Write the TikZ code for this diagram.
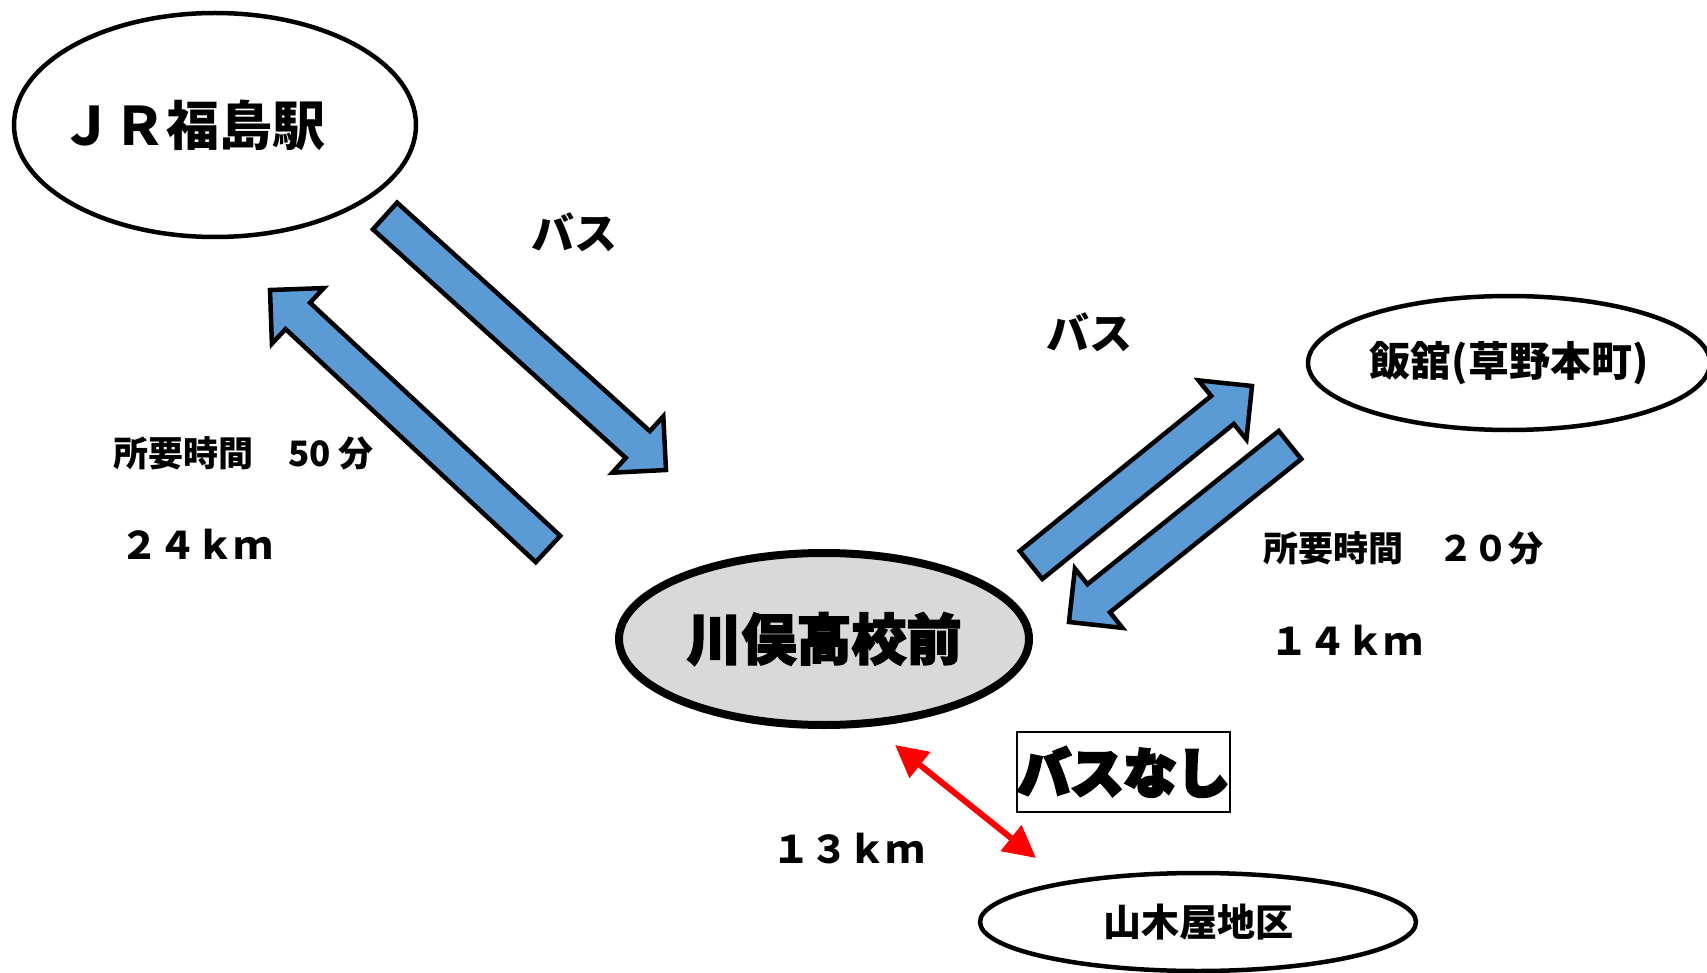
\documentclass[tikz,border=0pt]{standalone}
\usepackage{fontspec}
\usetikzlibrary{shapes.geometric,calc,arrows.meta}
\newfontfamily\jp{Noto Sans CJK JP}
\newfontfamily\jpheavy{Noto Sans CJK JP}[BoldFeatures={FakeBold=6}]
\newfontfamily\jpblack{Noto Sans CJK JP}[BoldFeatures={FakeBold=3}]
\definecolor{arrowblue}{HTML}{5B9BD5}
\definecolor{schoolgray}{HTML}{D9D9D9}
\tikzset{
  place/.style={ellipse,draw=black,line width=4.5pt,fill=white,inner sep=0pt},
  lbl/.style={inner sep=0pt,font=\jp\bfseries\fontsize{35}{40}\selectfont},
  blk/.style={fill=arrowblue,draw=black,line width=4.5pt,line join=miter},
}
\newcommand\blockarrow[2]{%
  \coordinate (neck) at ($(#2)!38pt!(#1)$);
  \draw[blk] ($(#1)!18pt!90:(#2)$) -- ($(neck)!18pt!-90:(#1)$) -- ($(neck)!38pt!-90:(#1)$)
    -- (#2) -- ($(neck)!38pt!90:(#1)$) -- ($(neck)!18pt!90:(#1)$) -- ($(#1)!18pt!-90:(#2)$) -- cycle;
}
\begin{document}
\begin{tikzpicture}[x=1pt,y=-1pt]
\useasboundingbox (0,0) rectangle (1707,973);
% places
\node[place,minimum width=402pt,minimum height=224pt] (jr) at (215,125) {};
\node[inner sep=0pt,font=\jp\bfseries\fontsize{53}{60}\selectfont] (jrtext) at (193,125) {ＪＲ福島駅};
\node[place,line width=8pt,fill=schoolgray,minimum width=410pt,minimum height=172pt,
  font=\jpblack\bfseries\fontsize{55}{60}\selectfont] (school) at (824,639) {川俣高校前};
\node[place,minimum width=402pt,minimum height=134pt,
  font=\jp\bfseries\fontsize{41}{46}\selectfont] (iitate) at (1509,363) {飯舘(草野本町)};
\node[place,minimum width=436pt,minimum height=98pt,
  font=\jp\bfseries\fontsize{38}{44}\selectfont] (yamakiya) at (1198,922) {山木屋地区};
% block arrows
\coordinate (a1s) at (385,216); \coordinate (a1e) at (666,470);
\coordinate (a2s) at (548,549); \coordinate (a2e) at (270,290);
\coordinate (a3s) at (1031,565); \coordinate (a3e) at (1252,386);
\coordinate (a4s) at (1290,445); \coordinate (a4e) at (1069,622);
\blockarrow{a1s}{a1e}
\blockarrow{a2s}{a2e}
\blockarrow{a3s}{a3e}
\blockarrow{a4s}{a4e}
% red double arrow
\coordinate (r1) at (895,745); \coordinate (r2) at (1036,858);
\draw[red,line width=6pt,{Triangle[length=32pt,width=32pt]}-{Triangle[length=32pt,width=32pt]}] (r1) -- (r2);
% labels
\node[lbl,font=\jp\bfseries\fontsize{43}{48}\selectfont] (bus1) at (574,232) {バス};
\node[lbl,font=\jp\bfseries\fontsize{43}{48}\selectfont] (bus2) at (1089,332) {バス};
\node[lbl,anchor=west] (t1) at (113,453) {所要時間　50 分};
\node[lbl,anchor=west,font=\jp\bfseries\fontsize{38}{42}\selectfont] (d1) at (120,544) {２４ｋｍ};
\node[lbl,anchor=west] (t2) at (1263,548) {所要時間　２０分};
\node[lbl,anchor=west,font=\jp\bfseries\fontsize{38}{42}\selectfont] (d2) at (1270,640) {１４ｋｍ};
\node[lbl,anchor=west,font=\jp\bfseries\fontsize{38}{42}\selectfont] (d3) at (772,849) {１３ｋｍ};
\node[draw=black,line width=1.5pt,minimum width=213pt,minimum height=80pt,inner sep=0pt,
  font=\jpheavy\bfseries\fontsize{53}{56}\selectfont] (nobus) at (1123.5,772) {バスなし};
\end{tikzpicture}
\end{document}
